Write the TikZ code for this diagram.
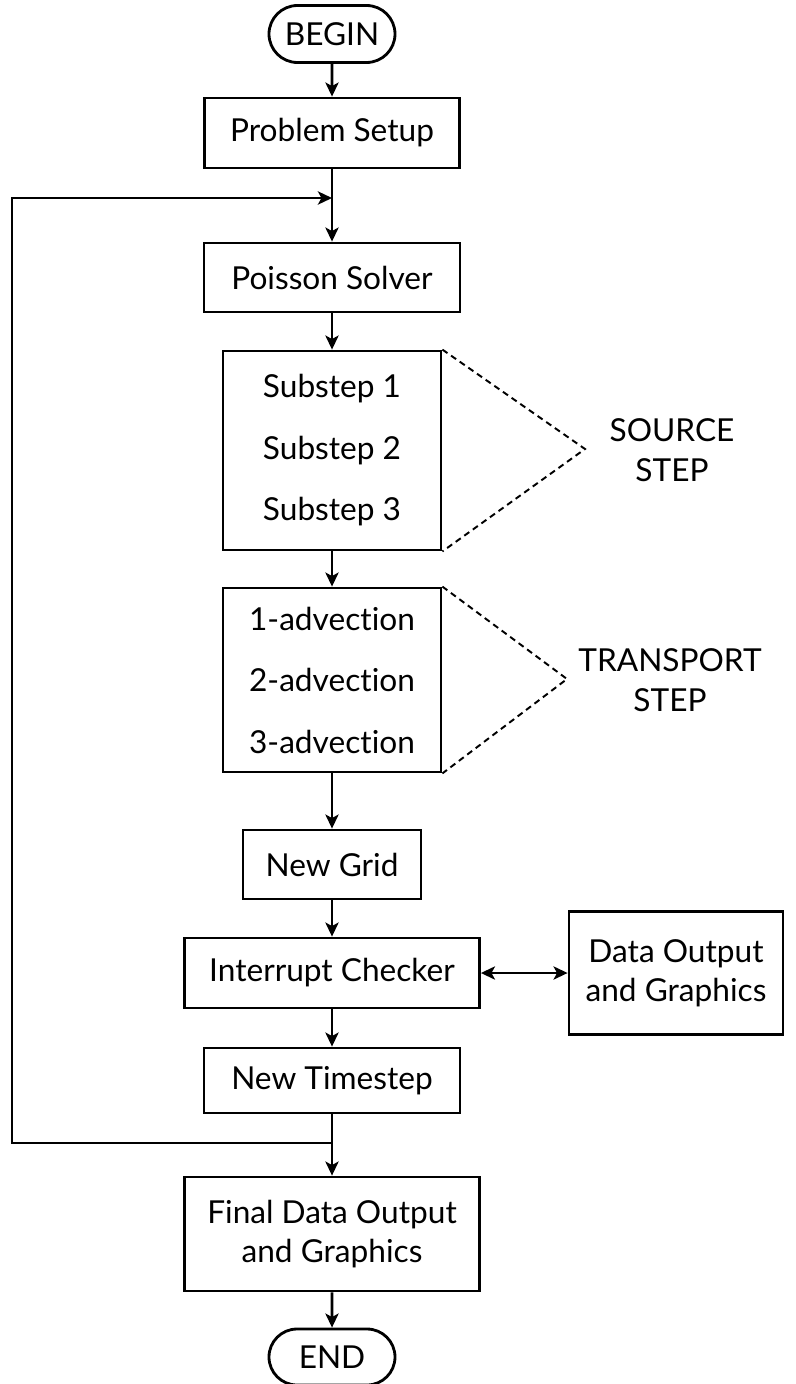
\documentclass[tikz,border=0pt]{standalone}
\usepackage{fontspec}
\setmainfont{Lato}[Ligatures={NoCommon,NoContextual,NoRequired}]
\usetikzlibrary{positioning, arrows.meta, shapes.misc}

\begin{document}
\begin{tikzpicture}[auto, node distance=2cm, line width=1.6pt,
  >={Stealth[length=8pt,width=7.5pt,inset=2pt]},
  box node/.style={rectangle,draw,align=center,inner sep=0pt,font=\fontsize{18}{22}\selectfont},
  term node/.style={rounded rectangle,draw,inner sep=0pt,minimum width=2.52cm,
    minimum height=1.14cm,font=\fontsize{18}{22}\selectfont},
  step label/.style={align=center,font=\fontsize{18}{23}\selectfont},
  brace line/.style={line width=1.1pt,dash pattern=on 3.5pt off 2.5pt}]

\useasboundingbox (0,0) rectangle (15.9,-27.68);

\node[term node] (begin) at (6.64,-0.68) {BEGIN};
\node[box node, minimum width=5.1cm, minimum height=1.4cm] (setup) [below of=begin, node distance=1.98cm] {Problem Setup};
\node[box node, minimum width=5.12cm, minimum height=1.38cm] (poisson) [below of=setup, node distance=2.89cm] {Poisson Solver};
\node[box node, minimum width=4.36cm, minimum height=3.98cm] (source) [below of=poisson, node distance=3.46cm]
  {Substep 1\\[13pt]Substep 2\\[13pt]Substep 3};
\node[box node, minimum width=4.36cm, minimum height=3.68cm] (transport) [below of=source, node distance=4.59cm]
  {1-advection\\[13pt]2-advection\\[13pt]3-advection};
\node[box node, minimum width=3.56cm, minimum height=1.38cm] (grid) [below of=transport, node distance=3.69cm] {New Grid};
\node[box node, minimum width=5.9cm, minimum height=1.4cm] (interrupt) [below of=grid, node distance=2.17cm] {Interrupt Checker};
\node[box node, minimum width=4.28cm, minimum height=2.46cm] (output) [right of=interrupt, node distance=6.88cm]
  {Data Output\\and Graphics};
\node[box node, minimum width=5.12cm, minimum height=1.3cm] (timestep) [below of=interrupt, node distance=2.15cm] {New Timestep};
\node[box node, minimum width=5.9cm, minimum height=2.28cm] (final) [below of=timestep, node distance=3.07cm]
  {Final Data Output\\and Graphics};
\node[term node, minimum height=1.12cm] (end) [below of=final, node distance=2.46cm] {END};

% step labels
\node[step label] (sourcelbl) at (13.44,-9.0) {SOURCE\\STEP};
\node[step label] (transportlbl) at (13.4,-13.6) {TRANSPORT\\STEP};
\coordinate (sourcetip) at (11.7,-8.98);
\coordinate (transporttip) at (11.34,-13.58);

% loop back
\coordinate (jtop) at (6.64,-3.96);
\coordinate (jbot) at (6.64,-22.86);
\coordinate (lft) at (0.24,-22.86);

\path[->]
(begin) edge (setup)
(setup) edge (poisson)
(poisson) edge (source)
(source) edge (transport)
(transport) edge (grid)
(grid) edge (interrupt)
(interrupt) edge (timestep)
(timestep) edge (final)
(final) edge (end)
(interrupt) edge[<->] (output)
;

\draw[->] (jbot) -- (lft) |- (jtop);

\draw[brace line] (source.north east) -- (sourcetip) -- (source.south east);
\draw[brace line] (transport.north east) -- (transporttip) -- (transport.south east);
\end{tikzpicture}
\end{document}
